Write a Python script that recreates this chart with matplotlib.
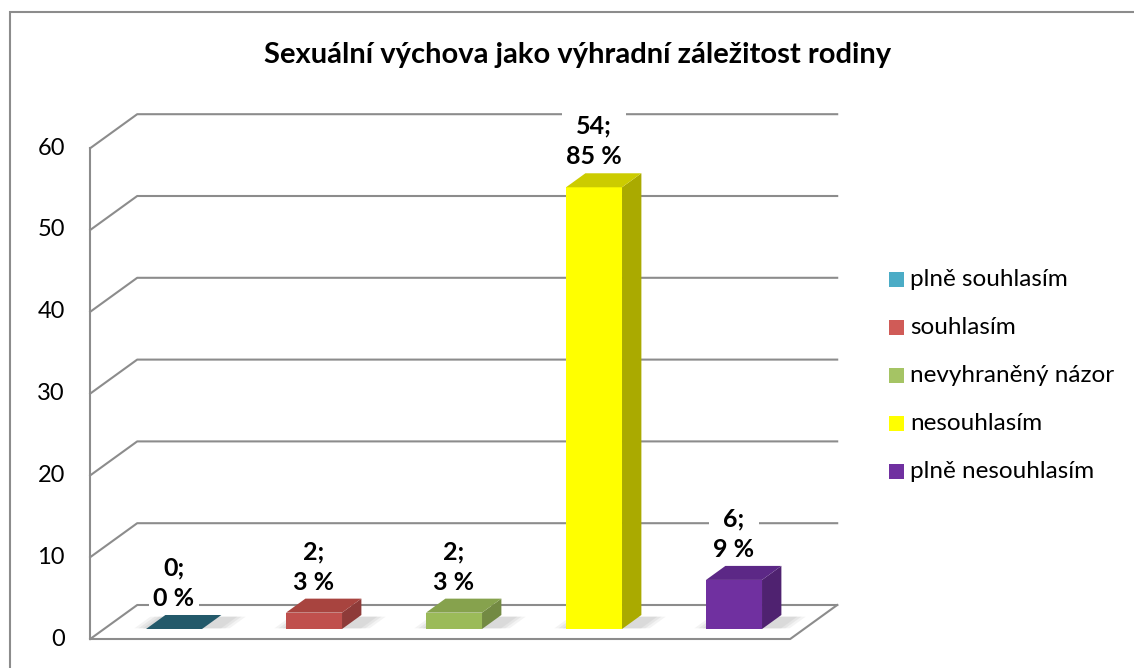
import matplotlib.pyplot as plt
from matplotlib.patches import Polygon, Rectangle
import numpy as np

plt.rcParams['font.family'] = ['Lato', 'DejaVu Sans']

# data
categories = ['plně souhlasím', 'souhlasím', 'nevyhraněný názor', 'nesouhlasím', 'plně nesouhlasím']
counts = [0, 2, 2, 54, 6]
percents = [0, 3, 3, 85, 9]
y_ticks = [0, 10, 20, 30, 40, 50, 60]
title = 'Sexuální výchova jako výhradní záležitost rodiny'

front_cols = ['#4bacc6', '#c0504d', '#9bbb59', '#ffff00', '#7030a0']
side_cols = ['#1f4f5c', '#8e3b39', '#738a43', '#aaaa00', '#4f2270']
top_cols = ['#23596a', '#a8443f', '#86a24d', '#cccc00', '#5c2886']
legend_cols = ['#4bacc6', '#d05b57', '#a5c464', '#ffff00', '#7030a0']

# pseudo 3D projection (depth z: 0 = front, 1 = back wall)
DX, DY = 47 / 140, 34 / 8.18
def proj(x, y, z):
    return x + z * DX, y + z * DY

fig = plt.figure(figsize=(11.34, 6.68), dpi=100)
ax = fig.add_axes([0, 0, 1, 1])
ax.set_xlim(-160.2 / 140, (1134 - 160.2) / 140)
ax.set_ylim(-29 / 8.18, 639 / 8.18)
ax.axis('off')

grid_c = '#8c8c8c'
x0, x1 = -0.5, 4.5
for v in y_ticks:
    a = proj(x0, v, 0); b = proj(x0, v, 1); c = proj(x1, v, 1)
    ax.plot([a[0], b[0], c[0]], [a[1], b[1], c[1]], color=grid_c, lw=1.5, zorder=1)
    ax.text(a[0] - 0.18, a[1], str(v), ha='right', va='center', fontsize=17)
# left axis and floor
a = proj(x0, 0, 0); b = proj(x0, max(y_ticks), 0)
ax.plot([a[0], b[0]], [a[1], b[1]], color=grid_c, lw=1.5, zorder=1)
f1 = proj(x1, 0, 0); f2 = proj(x1, 0, 1)
ax.plot([a[0], f1[0], f2[0]], [a[1], f1[1], f2[1]], color=grid_c, lw=1.5, zorder=1)

zb, zb2 = 0.294, 0.706
w = 0.2
for i, (v, p) in enumerate(zip(counts, percents)):
    # soft floor shadow
    for k, al in enumerate([0.25, 0.35, 0.5]):
        e = 0.09 - 0.03 * k
        sh = [proj(i - w - e, 0, zb + 0.02), proj(i + w + 0.1 + e, 0, zb + 0.02),
              proj(i + w + 0.1 + e, 0, zb2 - 0.05), proj(i - w - e, 0, zb2 - 0.05)]
        ax.add_patch(Polygon(sh, closed=True, facecolor='#d0d0d0', edgecolor='none', alpha=al, zorder=2))
    front = [proj(i - w, 0, zb), proj(i + w, 0, zb), proj(i + w, v, zb), proj(i - w, v, zb)]
    side = [proj(i + w, 0, zb), proj(i + w, 0, zb2), proj(i + w, v, zb2), proj(i + w, v, zb)]
    top = [proj(i - w, v, zb), proj(i + w, v, zb), proj(i + w, v, zb2), proj(i - w, v, zb2)]
    ax.add_patch(Polygon(side, closed=True, facecolor=side_cols[i], edgecolor='none', zorder=3))
    ax.add_patch(Polygon(front, closed=True, facecolor=front_cols[i], edgecolor='none', zorder=3))
    ax.add_patch(Polygon(top, closed=True, facecolor=top_cols[i], edgecolor='none', zorder=3))
    lx, ly = proj(i, v, zb2)
    ax.text(proj(i, v, zb)[0], ly + 0.6, f'{v};\n{p} %', ha='center', va='bottom',
            fontsize=18, fontweight='bold', linespacing=1.4, zorder=4,
            bbox=dict(facecolor='white', edgecolor='none', pad=3))

ax.text(578 / 1134, 1 - 55 / 668, title, transform=ax.transAxes, ha='center', va='center',
        fontsize=21, fontweight='bold')

# legend
for k, (lab, col) in enumerate(zip(categories, legend_cols)):
    yc = 279 + 48.2 * k
    ax.add_patch(Rectangle((889 / 1134, 1 - (yc + 7.5) / 668), 15 / 1134, 15 / 668,
                           transform=ax.transAxes, facecolor=col, edgecolor='none'))
    ax.text(910 / 1134, 1 - yc / 668, lab, transform=ax.transAxes, ha='left', va='center', fontsize=17.5)

# chart border
ax.add_patch(Rectangle((10 / 1134, -0.1), 1.2, 1 - 12 / 668 + 0.1, transform=ax.transAxes,
                       facecolor='none', edgecolor='#8c8c8c', lw=1.5, zorder=5, clip_on=False))

fig.savefig('out.png', dpi=100)
